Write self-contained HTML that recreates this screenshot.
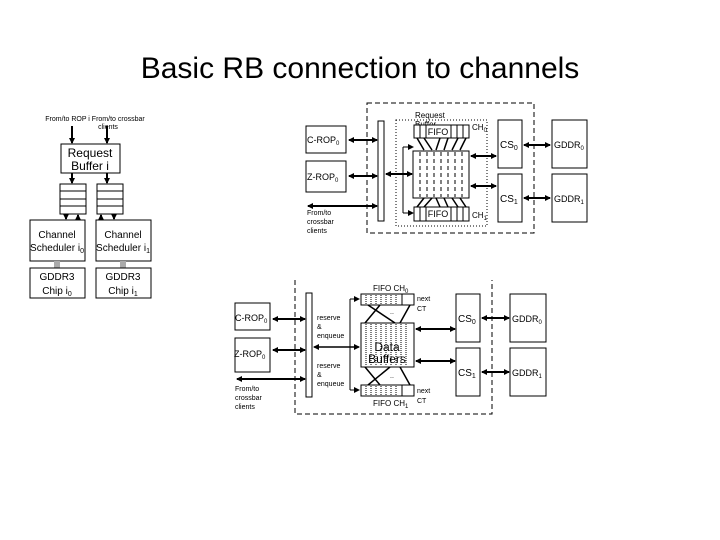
<!DOCTYPE html>
<html><head><meta charset="utf-8"><style>
body{margin:0;background:#fff;}
svg{display:block;}
text{font-family:"Liberation Sans",sans-serif;fill:#000;}
</style></head><body>
<svg width="720" height="540" viewBox="0 0 720 540" xmlns="http://www.w3.org/2000/svg">
<defs>
<marker id="a" markerWidth="6" markerHeight="6" refX="5" refY="3" orient="auto" markerUnits="userSpaceOnUse"><path d="M0,0 L6,3 L0,6 z" fill="#000"/></marker>
<marker id="b" markerWidth="6" markerHeight="6" refX="1" refY="3" orient="auto" markerUnits="userSpaceOnUse"><path d="M6,0 L0,3 L6,6 z" fill="#000"/></marker>
</defs>
<text x="360" y="78" font-size="30" text-anchor="middle">Basic RB connection to channels</text>

<!-- Left diagram -->
<g stroke="#000" fill="none" stroke-width="1">
<text x="95" y="121" font-size="7" text-anchor="middle" stroke="none">From/to ROP i From/to crossbar</text>
<text x="108" y="129" font-size="7" text-anchor="middle" stroke="none">clients</text>
<line x1="72" y1="126" x2="72" y2="143" stroke-width="2" marker-end="url(#a)"/>
<line x1="107" y1="126" x2="107" y2="143" stroke-width="2" marker-end="url(#a)"/>
<rect x="61" y="144" width="59" height="29" fill="#fff"/>
<text x="90" y="157" font-size="12" text-anchor="middle" stroke="none">Request</text>
<text x="90" y="170" font-size="12" text-anchor="middle" stroke="none">Buffer i</text>
<line x1="72" y1="173" x2="72" y2="183" stroke-width="2" marker-end="url(#a)"/>
<line x1="107" y1="173" x2="107" y2="183" stroke-width="2" marker-end="url(#a)"/>
<rect x="60" y="184" width="26" height="30"/><line x1="60" y1="191" x2="86" y2="191"/><line x1="60" y1="199" x2="86" y2="199"/><line x1="60" y1="206" x2="86" y2="206"/>
<rect x="97" y="184" width="26" height="30"/><line x1="97" y1="191" x2="123" y2="191"/><line x1="97" y1="199" x2="123" y2="199"/><line x1="97" y1="206" x2="123" y2="206"/>
<line x1="66" y1="214" x2="66" y2="219" stroke-width="2" marker-end="url(#a)"/>
<line x1="78" y1="220" x2="78" y2="215" stroke-width="2" marker-end="url(#a)"/>
<line x1="101" y1="220" x2="101" y2="215" stroke-width="2" marker-end="url(#a)"/>
<line x1="114" y1="214" x2="114" y2="219" stroke-width="2" marker-end="url(#a)"/>
<rect x="30" y="220" width="55" height="41"/>
<rect x="96" y="220" width="55" height="41"/>
<text x="57" y="238" font-size="10" text-anchor="middle" stroke="none">Channel</text>
<text x="57" y="251" font-size="10" text-anchor="middle" stroke="none">Scheduler i<tspan font-size="7" dy="2">0</tspan></text>
<text x="123" y="238" font-size="10" text-anchor="middle" stroke="none">Channel</text>
<text x="123" y="251" font-size="10" text-anchor="middle" stroke="none">Scheduler i<tspan font-size="7" dy="2">1</tspan></text>
<rect x="54" y="261" width="6" height="7" fill="#aaa" stroke="none"/>
<rect x="120" y="261" width="6" height="7" fill="#aaa" stroke="none"/>
<rect x="30" y="268" width="55" height="30"/>
<rect x="96" y="268" width="55" height="30"/>
<text x="57" y="280" font-size="10" text-anchor="middle" stroke="none">GDDR3</text>
<text x="57" y="294" font-size="10" text-anchor="middle" stroke="none">Chip i<tspan font-size="7" dy="2">0</tspan></text>
<text x="123" y="280" font-size="10" text-anchor="middle" stroke="none">GDDR3</text>
<text x="123" y="294" font-size="10" text-anchor="middle" stroke="none">Chip i<tspan font-size="7" dy="2">1</tspan></text>
</g>

<!-- Top-right diagram -->
<g stroke="#000" fill="none" stroke-width="1">
<rect x="367" y="103" width="167" height="130" stroke-dasharray="5,3"/>
<rect x="306" y="126" width="40" height="27"/>
<text x="307" y="143" font-size="9" stroke="none">C-ROP<tspan font-size="6" dy="2">0</tspan></text>
<rect x="306" y="161" width="40" height="31"/>
<text x="307" y="180" font-size="9" stroke="none">Z-ROP<tspan font-size="6" dy="2">0</tspan></text>
<text x="307" y="215" font-size="7" stroke="none">From/to</text>
<text x="307" y="224" font-size="7" stroke="none">crossbar</text>
<text x="307" y="233" font-size="7" stroke="none">clients</text>
<line x1="349" y1="140" x2="377" y2="140" stroke-width="2" marker-start="url(#b)" marker-end="url(#a)"/>
<line x1="349" y1="176" x2="377" y2="176" stroke-width="2" marker-start="url(#b)" marker-end="url(#a)"/>
<line x1="308" y1="206" x2="377" y2="206" stroke-width="2" marker-start="url(#b)" marker-end="url(#a)"/>
<rect x="378" y="121" width="6" height="100" fill="#fff"/>
<line x1="386" y1="174" x2="412" y2="174" stroke-width="2" marker-start="url(#b)" marker-end="url(#a)"/>
<rect x="396" y="120" width="91" height="106" stroke-dasharray="1,2"/>
<text x="415" y="118" font-size="8" stroke="none">Request</text>
<text x="415" y="127" font-size="8" stroke="none">Buffer</text>
<line x1="403" y1="147" x2="403" y2="213"/>
<line x1="403" y1="147" x2="413" y2="147" marker-end="url(#a)"/>
<line x1="403" y1="213" x2="413" y2="213" marker-end="url(#a)"/>
<rect x="414" y="125" width="55" height="13" fill="#fff"/>
<line x1="420" y1="125" x2="420" y2="138"/><line x1="426" y1="125" x2="426" y2="138"/>
<line x1="451" y1="125" x2="451" y2="138"/><line x1="457" y1="125" x2="457" y2="138"/><line x1="463" y1="125" x2="463" y2="138"/>
<text x="438" y="135" font-size="9" text-anchor="middle" stroke="none">FIFO</text>
<text x="472" y="130" font-size="8" stroke="none">CH<tspan font-size="6" dy="2">0</tspan></text>
<path d="M417,138 L424,150 M424,138 L432,150 M440,138 L436,150 M448,138 L444,150 M458,138 L452,150 M466,138 L460,150" stroke-width="1.5"/>
<rect x="413" y="151" width="56" height="47" fill="#fff"/>
<g stroke-dasharray="4,3"><line x1="420" y1="152" x2="420" y2="197"/><line x1="427" y1="152" x2="427" y2="197"/><line x1="434" y1="152" x2="434" y2="197"/><line x1="441" y1="152" x2="441" y2="197"/><line x1="448" y1="152" x2="448" y2="197"/><line x1="455" y1="152" x2="455" y2="197"/><line x1="462" y1="152" x2="462" y2="197"/></g>
<path d="M417,207 L424,198 M424,207 L432,198 M440,207 L436,198 M448,207 L444,198 M458,207 L452,198 M466,207 L460,198" stroke-width="1.5"/>
<rect x="414" y="207" width="55" height="14" fill="#fff"/>
<line x1="420" y1="207" x2="420" y2="221"/><line x1="426" y1="207" x2="426" y2="221"/>
<line x1="451" y1="207" x2="451" y2="221"/><line x1="457" y1="207" x2="457" y2="221"/><line x1="463" y1="207" x2="463" y2="221"/>
<text x="438" y="217" font-size="9" text-anchor="middle" stroke="none">FIFO</text>
<text x="472" y="218" font-size="8" stroke="none">CH<tspan font-size="6" dy="2">1</tspan></text>
<line x1="471" y1="156" x2="496" y2="156" stroke-width="2" marker-start="url(#b)" marker-end="url(#a)"/>
<line x1="471" y1="186" x2="496" y2="186" stroke-width="2" marker-start="url(#b)" marker-end="url(#a)"/>
<rect x="498" y="120" width="24" height="48" fill="#fff"/>
<text x="500" y="148" font-size="10" stroke="none">CS<tspan font-size="7" dy="2">0</tspan></text>
<rect x="498" y="174" width="24" height="48" fill="#fff"/>
<text x="500" y="202" font-size="10" stroke="none">CS<tspan font-size="7" dy="2">1</tspan></text>
<line x1="524" y1="145" x2="550" y2="145" stroke-width="2" marker-start="url(#b)" marker-end="url(#a)"/>
<line x1="524" y1="198" x2="550" y2="198" stroke-width="2" marker-start="url(#b)" marker-end="url(#a)"/>
<rect x="552" y="120" width="35" height="48" fill="#fff"/>
<text x="554" y="148" font-size="9" stroke="none">GDDR<tspan font-size="6" dy="2">0</tspan></text>
<rect x="552" y="174" width="35" height="48" fill="#fff"/>
<text x="554" y="202" font-size="9" stroke="none">GDDR<tspan font-size="6" dy="2">1</tspan></text>
</g>

<!-- Bottom diagram -->
<g stroke="#000" fill="none" stroke-width="1">
<path d="M295,280 L295,414 L492,414 L492,280" stroke-dasharray="5,3"/>
<rect x="235" y="303" width="35" height="27"/>
<text x="235" y="321" font-size="9" stroke="none">C-ROP<tspan font-size="6" dy="2">0</tspan></text>
<rect x="235" y="338" width="35" height="34"/>
<text x="234" y="357" font-size="9" stroke="none">Z-ROP<tspan font-size="6" dy="2">0</tspan></text>
<text x="235" y="391" font-size="7" stroke="none">From/to</text>
<text x="235" y="400" font-size="7" stroke="none">crossbar</text>
<text x="235" y="409" font-size="7" stroke="none">clients</text>
<line x1="273" y1="319" x2="305" y2="319" stroke-width="2" marker-start="url(#b)" marker-end="url(#a)"/>
<line x1="273" y1="350" x2="305" y2="350" stroke-width="2" marker-start="url(#b)" marker-end="url(#a)"/>
<line x1="237" y1="379" x2="305" y2="379" stroke-width="2" marker-start="url(#b)" marker-end="url(#a)"/>
<rect x="306" y="293" width="6" height="104" fill="#fff"/>
<text x="317" y="320" font-size="7" stroke="none">reserve</text>
<text x="317" y="329" font-size="7" stroke="none">&amp;</text>
<text x="317" y="338" font-size="7" stroke="none">enqueue</text>
<text x="317" y="368" font-size="7" stroke="none">reserve</text>
<text x="317" y="377" font-size="7" stroke="none">&amp;</text>
<text x="317" y="386" font-size="7" stroke="none">enqueue</text>
<line x1="314" y1="347" x2="359" y2="347" stroke-width="1.5" marker-start="url(#b)" marker-end="url(#a)"/>
<line x1="350" y1="299" x2="350" y2="390"/>
<line x1="350" y1="299" x2="359" y2="299" marker-end="url(#a)"/>
<line x1="350" y1="390" x2="359" y2="390" marker-end="url(#a)"/>
<text x="373" y="291" font-size="8" stroke="none">FIFO CH<tspan font-size="6" dy="2">0</tspan></text>
<rect x="361" y="294" width="53" height="11" fill="#fff"/>
<line x1="402" y1="294" x2="402" y2="305"/>
<g stroke-dasharray="1,1"><line x1="366" y1="295" x2="366" y2="305"/><line x1="371" y1="295" x2="371" y2="305"/><line x1="376" y1="295" x2="376" y2="305"/><line x1="381" y1="295" x2="381" y2="305"/><line x1="386" y1="295" x2="386" y2="305"/><line x1="391" y1="295" x2="391" y2="305"/><line x1="396" y1="295" x2="396" y2="305"/></g>
<text x="417" y="301" font-size="7" stroke="none">next</text>
<text x="417" y="311" font-size="7" stroke="none">CT</text>
<path d="M365,323 L380,305 M368,305 L395,323 M400,323 L410,305" stroke-width="1.5"/>
<text x="390" y="314" font-size="7" stroke="none">..</text>
<rect x="361" y="323" width="53" height="44" fill="#fff"/>
<g stroke-dasharray="1,1"><line x1="366" y1="324" x2="366" y2="366"/><line x1="371" y1="324" x2="371" y2="366"/><line x1="376" y1="324" x2="376" y2="366"/><line x1="381" y1="324" x2="381" y2="366"/><line x1="386" y1="324" x2="386" y2="366"/><line x1="391" y1="324" x2="391" y2="366"/><line x1="396" y1="324" x2="396" y2="366"/><line x1="401" y1="324" x2="401" y2="366"/><line x1="406" y1="324" x2="406" y2="366"/></g>
<text x="387" y="351" font-size="12" text-anchor="middle" stroke="none">Data</text>
<text x="387" y="363" font-size="12" text-anchor="middle" stroke="none">Buffers</text>
<path d="M365,367 L380,385 M368,385 L390,367 M400,367 L410,385" stroke-width="1.5"/>
<text x="390" y="378" font-size="7" stroke="none">..</text>
<rect x="361" y="385" width="53" height="11" fill="#fff"/>
<line x1="402" y1="385" x2="402" y2="396"/>
<g stroke-dasharray="1,1"><line x1="366" y1="386" x2="366" y2="396"/><line x1="371" y1="386" x2="371" y2="396"/><line x1="376" y1="386" x2="376" y2="396"/><line x1="381" y1="386" x2="381" y2="396"/><line x1="386" y1="386" x2="386" y2="396"/><line x1="391" y1="386" x2="391" y2="396"/><line x1="396" y1="386" x2="396" y2="396"/></g>
<text x="417" y="393" font-size="7" stroke="none">next</text>
<text x="417" y="403" font-size="7" stroke="none">CT</text>
<text x="373" y="406" font-size="8" stroke="none">FIFO CH<tspan font-size="6" dy="2">1</tspan></text>
<line x1="416" y1="329" x2="455" y2="329" stroke-width="2" marker-start="url(#b)" marker-end="url(#a)"/>
<line x1="416" y1="361" x2="455" y2="361" stroke-width="2" marker-start="url(#b)" marker-end="url(#a)"/>
<rect x="456" y="294" width="24" height="48" fill="#fff"/>
<text x="458" y="322" font-size="10" stroke="none">CS<tspan font-size="7" dy="2">0</tspan></text>
<rect x="456" y="348" width="24" height="48" fill="#fff"/>
<text x="458" y="376" font-size="10" stroke="none">CS<tspan font-size="7" dy="2">1</tspan></text>
<line x1="482" y1="318" x2="509" y2="318" stroke-width="2" marker-start="url(#b)" marker-end="url(#a)"/>
<line x1="482" y1="372" x2="509" y2="372" stroke-width="2" marker-start="url(#b)" marker-end="url(#a)"/>
<rect x="510" y="294" width="36" height="48" fill="#fff"/>
<text x="512" y="322" font-size="9" stroke="none">GDDR<tspan font-size="6" dy="2">0</tspan></text>
<rect x="510" y="348" width="36" height="48" fill="#fff"/>
<text x="512" y="376" font-size="9" stroke="none">GDDR<tspan font-size="6" dy="2">1</tspan></text>
</g>
</svg>
</body></html>
